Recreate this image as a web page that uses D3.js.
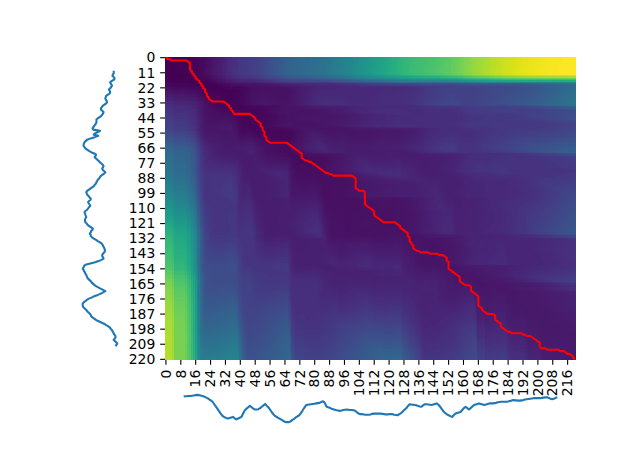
<!DOCTYPE html>
<html><head><meta charset="utf-8">
<script src="https://cdn.jsdelivr.net/npm/d3@7"></script>
<style>body{margin:0;background:#fff}svg{display:block}</style>
</head><body><svg id="c" width="640" height="476"></svg>
<script>
// Left-panel series (index 0 drawn at the bottom of the left panel)
const seriesLeft = [92,94,96,94,91,88,90,92,92,90,88,87,85,84,81,79,75,70,66,60,54,48,44,40,37,36,34,31,28,26,23,20,18,18,18,20,24,27,32,39,44,52,59,64,69,64,58,53,48,44,41,38,36,33,30,28,27,26,24,23,21,20,18,20,21,24,35,46,54,60,65,64,62,62,64,67,68,68,67,66,64,63,61,57,52,48,43,39,36,36,34,36,37,40,41,37,32,29,27,24,23,23,24,26,25,24,23,22,24,28,30,32,35,34,32,30,32,36,36,33,31,28,27,26,28,32,36,40,44,45,48,49,51,52,55,57,59,63,67,69,66,63,62,64,65,63,60,57,54,51,48,45,47,48,44,37,32,28,24,22,20,20,21,22,25,28,36,45,53,43,46,52,57,42,40,42,44,46,48,49,49,49,52,56,60,62,64,65,62,59,59,61,63,67,71,73,72,70,69,70,71,75,79,80,79,77,80,82,84,83,81,80,84,89,90,88,85,86,88,88,88];
// Bottom-panel series
const seriesBottom = [94,95,95,96,96,97,98,99,100,99,98,96,94,91,88,84,80,75,66,57,48,39,30,23,19,16,14,16,18,20,15,11,14,17,20,32,44,50,55,60,55,50,47,47,48,52,57,62,67,60,54,45,36,28,23,19,15,12,8,4,1,1,1,4,9,13,18,22,26,34,43,53,62,64,65,66,67,68,69,70,71,74,77,72,58,55,53,50,48,46,44,43,42,43,45,46,47,46,45,45,44,42,37,32,30,30,29,28,28,28,29,31,32,32,32,32,32,31,30,29,29,30,30,30,28,27,26,30,34,40,46,51,59,66,65,64,63,62,60,58,57,62,66,66,65,64,63,65,67,69,64,57,48,40,34,29,26,23,20,26,32,34,36,38,45,52,57,52,47,52,58,63,65,67,69,67,65,63,65,67,69,69,69,70,71,73,74,75,75,75,75,76,78,79,81,80,80,79,79,80,81,83,84,85,86,87,88,88,88,88,88,89,90,91,91,89,86,84,86,89,91];
const xTickLabels = [0,8,16,24,32,40,48,56,64,72,80,88,96,104,112,120,128,136,144,152,160,168,176,184,192,200,208,216];
const yTickLabels = [0,11,22,33,44,55,66,77,88,99,110,121,132,143,154,165,176,187,198,209,220];

// accumulated DTW cost: matrix rows = bottom series, columns = left series
const s1 = seriesBottom, s2 = seriesLeft;
const n = s1.length, m = s2.length;
const D = [];
for (let p = 0; p < n; p++) {
  D.push(new Float64Array(m));
  for (let q = 0; q < m; q++) {
    const c = Math.abs(s1[p] - s2[q]);
    let best;
    if (p === 0 && q === 0) best = 0;
    else if (p === 0) best = D[p][q-1];
    else if (q === 0) best = D[p-1][q];
    else best = Math.min(D[p-1][q-1], D[p-1][q], D[p][q-1]);
    D[p][q] = c + best;
  }
}
// warping path (pairs p,q) by backtracking
const path = [[n-1, m-1]];
{
  let p = n-1, q = m-1;
  while (p > 0 || q > 0) {
    if (p === 0) q--;
    else if (q === 0) p--;
    else {
      const d = D[p-1][q-1], u = D[p-1][q], l = D[p][q-1];
      if (d <= u && d <= l) { p--; q--; }
      else if (u <= l) p--;
      else q--;
    }
    path.push([p, q]);
  }
  path.reverse();
}

const svg = d3.select("#c");
const FONT = "DejaVu Sans, sans-serif";
const L = 165, R = 576, T = 57, B = 360;
const x = d3.scaleBand().domain(d3.range(m)).range([L, R]).padding(0);
const y = d3.scaleBand().domain(d3.range(n)).range([T, B]).padding(0);
let vmin = Infinity, vmax = -Infinity;
for (const row of D) for (const v of row) { if (v < vmin) vmin = v; if (v > vmax) vmax = v; }
const color = d3.scaleSequential(d3.interpolateViridis).domain([vmin, vmax]);

const cells = [];
for (let p = 0; p < n; p++) for (let q = 0; q < m; q++) cells.push({p, q, v: D[p][q]});
svg.append("g").attr("shape-rendering", "crispEdges")
  .selectAll("rect").data(cells).join("rect")
  .attr("x", d => x(d.q)).attr("y", d => y(d.p))
  .attr("width", x.bandwidth() + 0.4).attr("height", y.bandwidth() + 0.4)
  .attr("fill", d => color(d.v));

// warping path plotted with x = first index, y = second index
svg.append("path").datum(path)
  .attr("fill", "none").attr("stroke", "#ff0000").attr("stroke-width", 2.1)
  .attr("stroke-linejoin", "round")
  .attr("d", d3.line().x(d => x(d[0]) + x.bandwidth()/2).y(d => y(d[1]) + y.bandwidth()/2));

// axes
const tick = 4.86, pad = 4.86;
const gx = svg.append("g").attr("transform", `translate(0,${B})`)
  .call(d3.axisBottom(x).tickValues(xTickLabels).tickSize(tick).tickPadding(pad));
gx.select(".domain").remove();
gx.selectAll("line").attr("stroke", "#000").attr("stroke-width", 1.1);
gx.selectAll("text").attr("font-family", FONT).attr("font-size", 13.9).attr("fill", "#000")
  .attr("text-anchor", "end").attr("transform", "rotate(-90)")
  .attr("x", -(tick + pad)).attr("y", 0).attr("dy", "0.34em");

const gy = svg.append("g").attr("transform", `translate(${L},0)`)
  .call(d3.axisLeft(y).tickValues(yTickLabels).tickSize(tick).tickPadding(pad));
gy.select(".domain").remove();
gy.selectAll("line").attr("stroke", "#000").attr("stroke-width", 1.1);
gy.selectAll("text").attr("font-family", FONT).attr("font-size", 13.9).attr("fill", "#000")
  .attr("dy", "0.34em");

// left series panel (value horizontal, index vertical, index 0 at bottom)
const aExt = d3.extent(seriesLeft), aPad = (aExt[1] - aExt[0]) * 0.05;
const lx = d3.scaleLinear().domain([aExt[0] - aPad, aExt[1] + aPad]).range([81, 119]);
const ly = d3.scaleLinear().domain([-(seriesLeft.length-1)*0.05, (seriesLeft.length-1)*1.05]).range([B, T]);
svg.append("path").datum(seriesLeft)
  .attr("fill", "none").attr("stroke", "#1f77b4").attr("stroke-width", 2.1)
  .attr("stroke-linejoin", "round")
  .attr("d", d3.line().x(d => lx(d)).y((d, i) => ly(i)));

// bottom series panel
const bExt = d3.extent(seriesBottom), bPad = (bExt[1] - bExt[0]) * 0.05;
const bx = d3.scaleLinear().domain([-(seriesBottom.length-1)*0.05, (seriesBottom.length-1)*1.05]).range([L, R]);
const by = d3.scaleLinear().domain([bExt[0] - bPad, bExt[1] + bPad]).range([423.5, 393.5]);
svg.append("path").datum(seriesBottom)
  .attr("fill", "none").attr("stroke", "#1f77b4").attr("stroke-width", 2.1)
  .attr("stroke-linejoin", "round")
  .attr("d", d3.line().x((d, i) => bx(i)).y(d => by(d)));
</script></body></html>
